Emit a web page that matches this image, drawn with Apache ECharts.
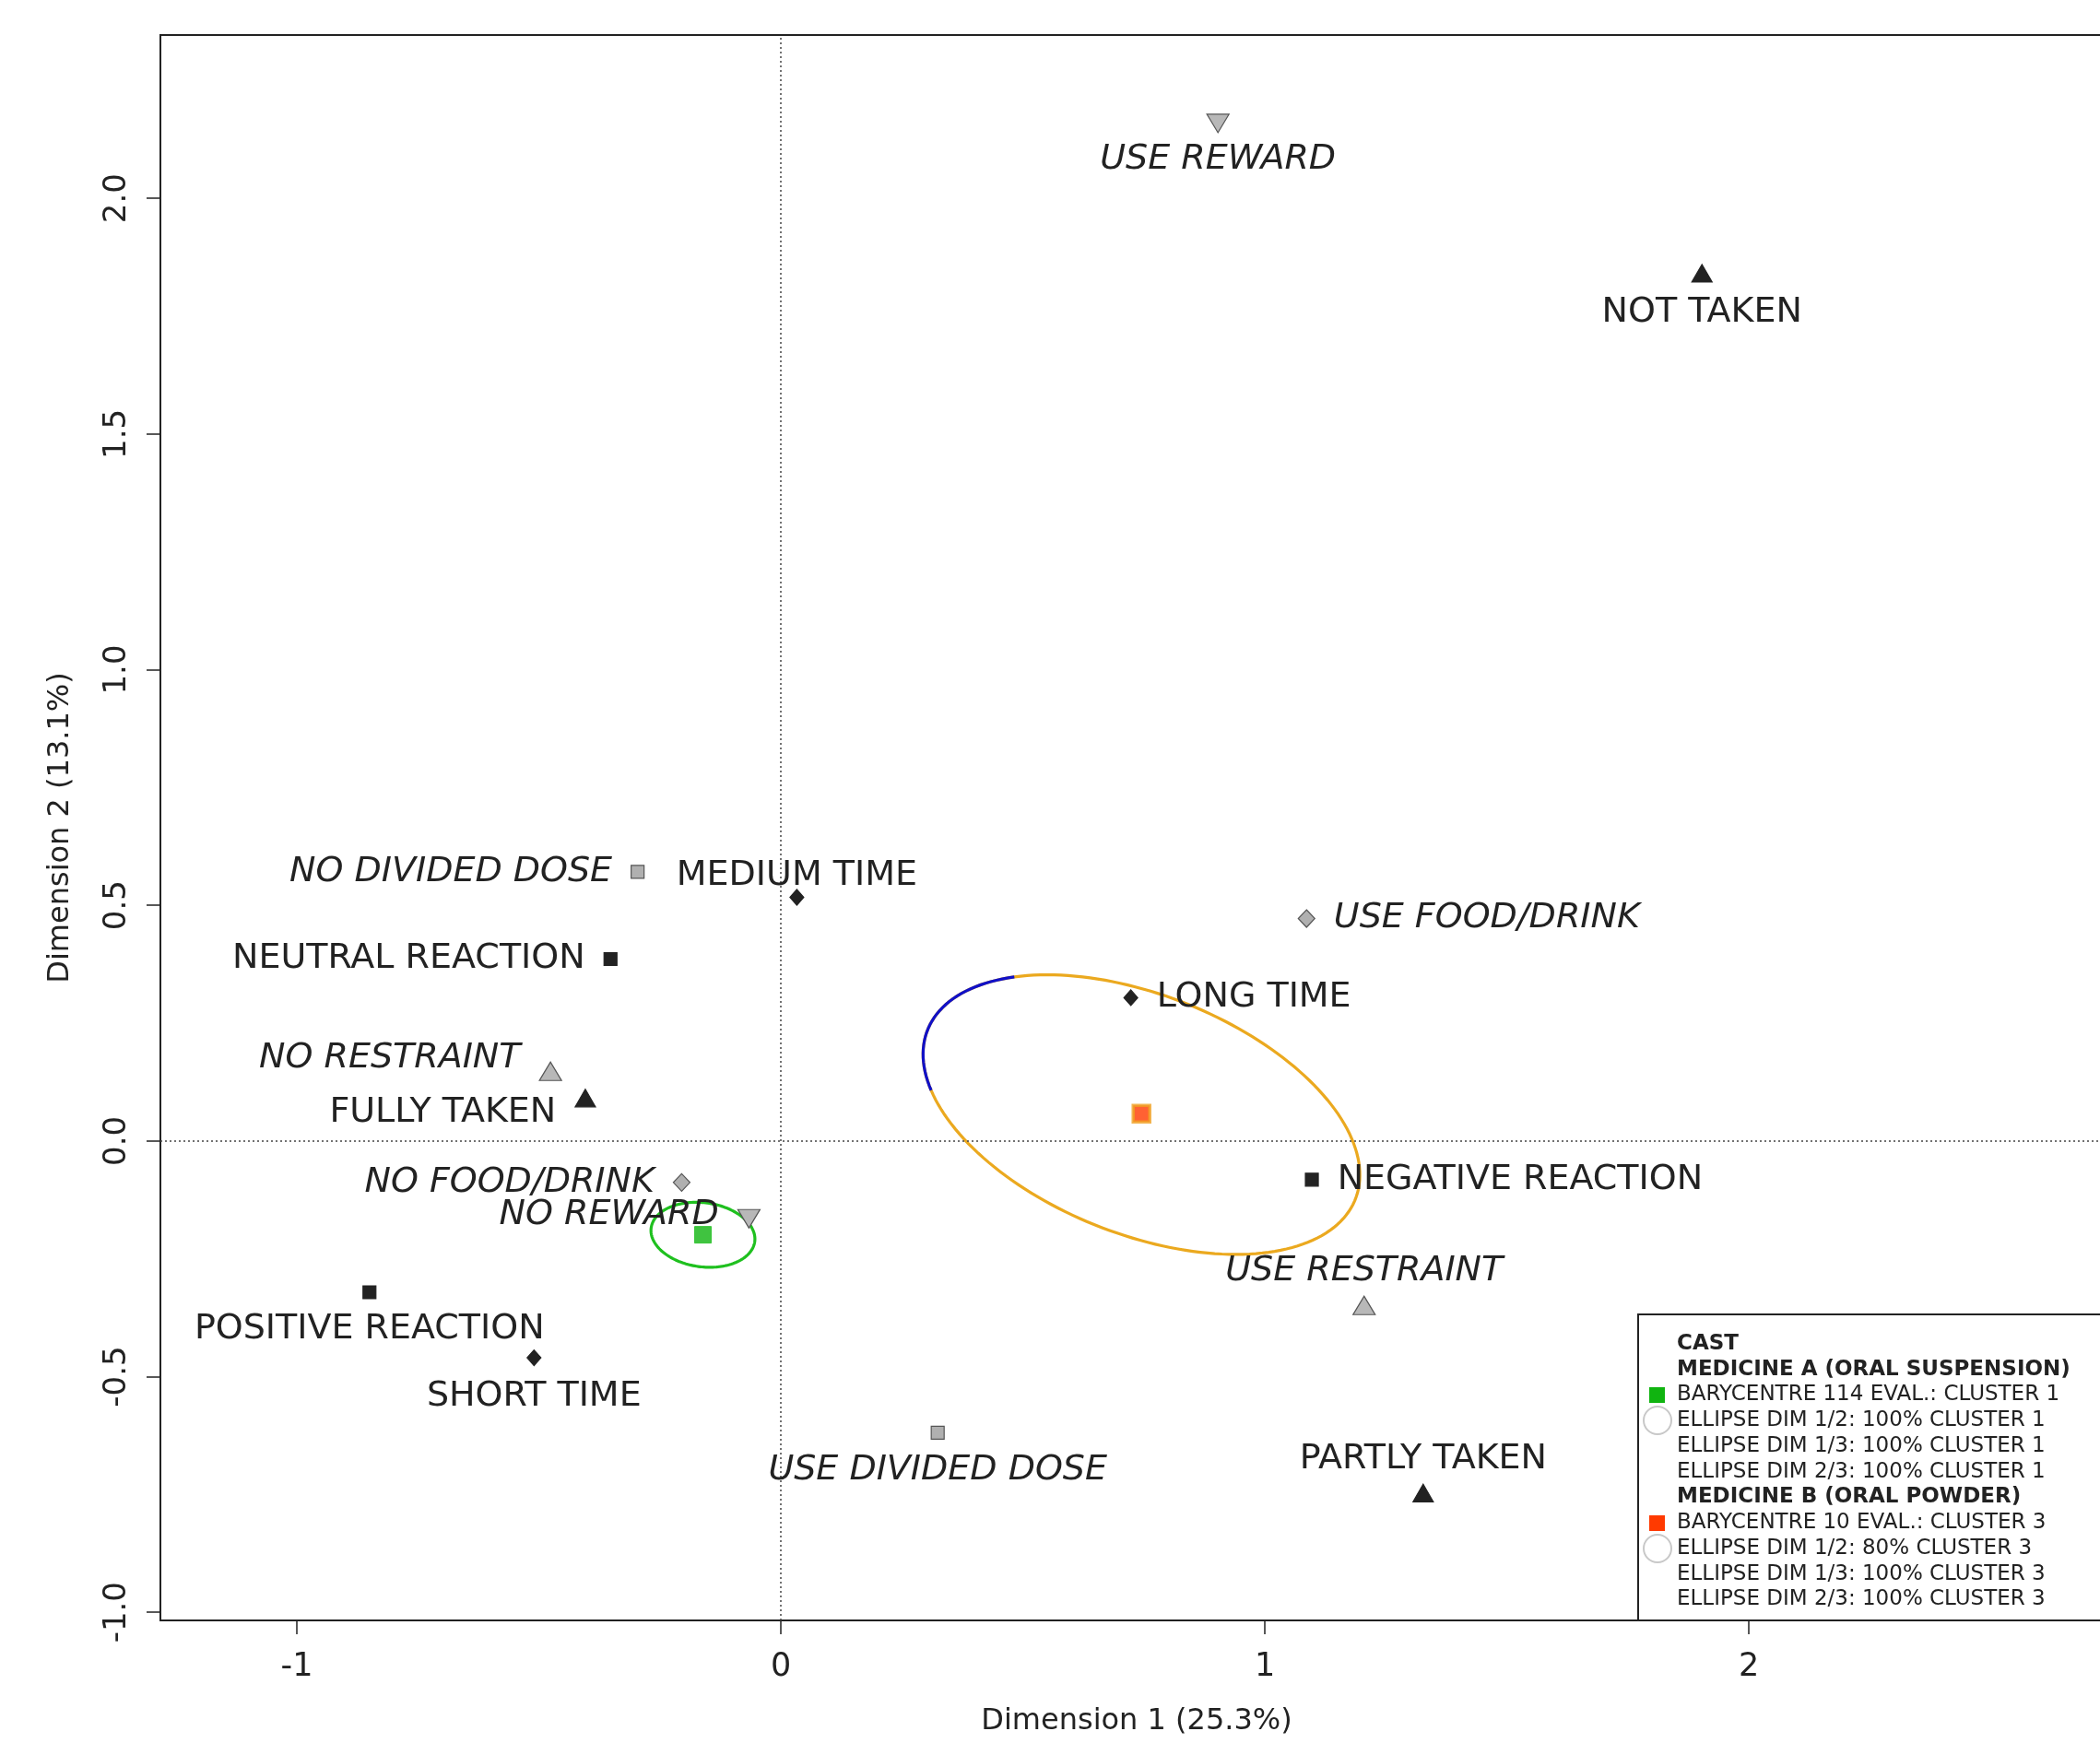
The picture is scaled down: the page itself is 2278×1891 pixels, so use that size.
<!DOCTYPE html>
<html>
<head>
<meta charset="utf-8">
<title>MCA map</title>
<script src="https://cdn.jsdelivr.net/npm/echarts@6/dist/echarts.min.js"></script>
<style>
  html, body { margin: 0; padding: 0; background: #fff; }
  #chart { width: 2278px; height: 1891px; }
</style>
</head>
<body>
<div id="chart"></div>
<script>
// category points on dimension 1 / dimension 2
var pointNames = ['USE REWARD', 'NOT TAKEN', 'NO DIVIDED DOSE', 'MEDIUM TIME', 'NEUTRAL REACTION',
  'USE FOOD/DRINK', 'LONG TIME', 'NO RESTRAINT', 'FULLY TAKEN', 'NO FOOD/DRINK',
  'NEGATIVE REACTION', 'NO REWARD', 'POSITIVE REACTION', 'USE RESTRAINT', 'SHORT TIME',
  'USE DIVIDED DOSE', 'PARTLY TAKEN'];
var pointDim1 = [0.903, 1.903, -0.296, 0.033, -0.352, 1.086, 0.723, -0.476, -0.404, -0.205,
  1.097, -0.066, -0.850, 1.205, -0.510, 0.324, 1.327];
var pointDim2 = [2.159, 1.841, 0.571, 0.517, 0.386, 0.472, 0.304, 0.148, 0.091, -0.088,
  -0.082, -0.165, -0.321, -0.349, -0.460, -0.619, -0.747];
var pointKind = ['greyDown', 'blackUp', 'greySquare', 'blackDiamond', 'blackSquare',
  'greyDiamond', 'blackDiamond', 'greyUp', 'blackUp', 'greyDiamond',
  'blackSquare', 'greyDown', 'blackSquare', 'greyUp', 'blackDiamond',
  'greySquare', 'blackUp'];

// barycentres of the two medicines
var baryNames = ['MEDICINE A', 'MEDICINE B'];
var baryDim1 = [-0.161, 0.745];
var baryDim2 = [-0.199, 0.058];

// confidence ellipses: centre, semi axes, angle (deg), arc from/to (deg)
var ellCx = [-0.161, 0.745, 0.745];
var ellCy = [-0.199, 0.056, 0.056];
var ellA = [0.108, 0.477, 0.477];
var ellB = [0.068, 0.253, 0.253];
var ellAngle = [-8, -22.5, -22.5];
var ellFrom = [0, 0, 138];
var ellTo = [360, 360, 209];

var xTicks = [-1, 0, 1, 2];
var yTicks = [-1, -0.5, 0, 0.5, 1, 1.5, 2];

var legendLines = ['CAST', 'MEDICINE A (ORAL SUSPENSION)', 'BARYCENTRE 114 EVAL.: CLUSTER 1',
  'ELLIPSE DIM 1/2: 100% CLUSTER 1', 'ELLIPSE DIM 1/3: 100% CLUSTER 1', 'ELLIPSE DIM 2/3: 100% CLUSTER 1',
  'MEDICINE B (ORAL POWDER)', 'BARYCENTRE 10 EVAL.: CLUSTER 3', 'ELLIPSE DIM 1/2: 80% CLUSTER 3',
  'ELLIPSE DIM 1/3: 100% CLUSTER 3', 'ELLIPSE DIM 2/3: 100% CLUSTER 3'];
var legendBold = [true, true, false, false, false, false, true, false, false, false, false];

// label placement (style only)
var labelSide = ['bottom', 'bottom', 'left', 'top', 'left', 'right', 'right', 'left', 'left', 'left',
  'right', 'left', 'bottom', 'top', 'bottom', 'bottom', 'top'];
var labelShift = [-4, 0, 0, 13, 0, 0, 0, -14, 16, 0, 0, -4, 0, 0, 0, 0, 0];

var FONT = '"DejaVu Sans", sans-serif';
var kindStyle = {
  blackSquare: { symbol: 'rect', size: 14, color: '#222', border: '#222' },
  blackDiamond: { symbol: 'diamond', size: [15, 17], color: '#222', border: '#222' },
  blackUp: { symbol: 'triangle', size: [22, 19], color: '#222', border: '#222' },
  greySquare: { symbol: 'rect', size: 14, color: '#b0b0b0', border: '#555' },
  greyDiamond: { symbol: 'diamond', size: [18, 19], color: '#b0b0b0', border: '#555' },
  greyUp: { symbol: 'triangle', size: [24, 20], color: '#b8b8b8', border: '#555' },
  greyDown: { symbol: 'triangle', size: [24, 20], color: '#b8b8b8', border: '#555', rotate: 180 }
};

var chart = echarts.init(document.getElementById('chart'));

var kinds = Object.keys(kindStyle);
var series = kinds.map(function (k) {
  var st = kindStyle[k];
  var data = [];
  for (var i = 0; i < pointNames.length; i++) {
    if (pointKind[i] !== k) continue;
    var side = labelSide[i];
    var dist = side === 'bottom' ? 14 : (side === 'top' ? 8 : 20);
    data.push({
      name: pointNames[i],
      value: [pointDim1[i], pointDim2[i]],
      label: { position: side, distance: dist, offset: [0, labelShift[i]] }
    });
  }
  return {
    type: 'scatter',
    name: k,
    symbol: st.symbol,
    symbolSize: st.size,
    symbolRotate: st.rotate || 0,
    itemStyle: { color: st.color, borderColor: st.border, borderWidth: 1.2, opacity: 1 },
    label: {
      show: true,
      formatter: '{b}',
      color: '#222',
      fontFamily: FONT,
      fontSize: 38,
      fontStyle: k.indexOf('grey') === 0 ? 'italic' : 'normal'
    },
    emphasis: { disabled: true },
    z: 5,
    data: data
  };
});

// dotted reference lines through the origin
series.push({
  type: 'scatter',
  name: 'origin',
  data: [],
  silent: true,
  markLine: {
    silent: true,
    symbol: 'none',
    label: { show: false },
    lineStyle: { type: [2, 3], color: '#444', width: 1.5 },
    data: [{ xAxis: 0 }, { yAxis: 0 }]
  },
  z: 1
});

// ellipses
var ellColors = ['#1fc01f', '#eba91f', '#1010c8'];
var ellData = [];
for (var e = 0; e < ellCx.length; e++) {
  ellData.push({
    value: [ellCx[e], ellCy[e], ellA[e], ellB[e], ellAngle[e], ellFrom[e], ellTo[e]],
    itemStyle: { color: ellColors[e] }
  });
}
series.push({
  type: 'custom',
  name: 'ellipses',
  silent: true,
  z: 4,
  renderItem: function (params, api) {
    var cx = api.value(0), cy = api.value(1), a = api.value(2), b = api.value(3);
    var phi = api.value(4) * Math.PI / 180;
    var pts = [];
    for (var d = api.value(5); d <= api.value(6); d += 2) {
      var t = d * Math.PI / 180;
      var ex = a * Math.cos(t), ey = b * Math.sin(t);
      pts.push(api.coord([cx + ex * Math.cos(phi) - ey * Math.sin(phi),
                          cy + ex * Math.sin(phi) + ey * Math.cos(phi)]));
    }
    return {
      type: 'polyline',
      shape: { points: pts },
      style: { stroke: api.visual('color'), lineWidth: 3.2, fill: null }
    };
  },
  data: ellData
});

// barycentres
series.push({
  type: 'scatter',
  name: 'barycentres',
  symbol: 'rect',
  symbolSize: 18,
  z: 6,
  emphasis: { disabled: true },
  data: [
    { name: baryNames[0], value: [baryDim1[0], baryDim2[0]], itemStyle: { color: '#10b410', borderColor: '#1fc01f', borderWidth: 1 } },
    { name: baryNames[1], value: [baryDim1[1], baryDim2[1]], itemStyle: { color: '#ff3a00', borderColor: '#f0a020', borderWidth: 3.5 } }
  ]
});

// legend box drawn by hand
var legendEls = [{
  type: 'rect',
  shape: { x: 1777, y: 1426, width: 600, height: 332 },
  style: { fill: '#fff', stroke: '#222', lineWidth: 2 },
  z: 20
}];
for (var j = 0; j < legendLines.length; j++) {
  legendEls.push({
    type: 'text',
    x: 1819,
    y: 1458 + j * 27.75,
    style: {
      text: legendLines[j],
      fill: '#222',
      font: (legendBold[j] ? 'bold ' : '') + '23px ' + FONT,
      verticalAlign: 'middle'
    },
    z: 21
  });
}
legendEls.push(
  { type: 'rect', shape: { x: 1789, y: 1505, width: 17, height: 17 }, style: { fill: '#10b410' }, z: 21 },
  { type: 'circle', shape: { cx: 1798, cy: 1541, r: 15 }, style: { fill: 'none', stroke: '#c8c8c8', lineWidth: 2 }, z: 21 },
  { type: 'rect', shape: { x: 1789, y: 1644, width: 17, height: 17 }, style: { fill: '#ff3a00' }, z: 21 },
  { type: 'circle', shape: { cx: 1798, cy: 1680, r: 15 }, style: { fill: 'none', stroke: '#c8c8c8', lineWidth: 2 }, z: 21 }
);

chart.setOption({
  animation: false,
  backgroundColor: '#fff',
  grid: {
    left: 174, top: 38, right: -14, bottom: 133,
    show: true, borderColor: '#222', borderWidth: 2,
    outerBoundsMode: 'none', containLabel: false
  },
  xAxis: {
    type: 'value',
    min: -1.2819, max: 2.752,
    name: 'Dimension 1 (25.3%)',
    nameLocation: 'middle',
    nameGap: 94,
    nameTextStyle: { fontFamily: FONT, fontSize: 32, color: '#222' },
    axisLine: { show: false, onZero: false },
    splitLine: { show: false },
    axisTick: { show: true, inside: false, length: 15, lineStyle: { color: '#222', width: 1.5 }, customValues: xTicks },
    axisLabel: { customValues: xTicks, margin: 33, fontFamily: FONT, fontSize: 35, color: '#222' }
  },
  yAxis: {
    type: 'value',
    min: -1.0172, max: 2.3465,
    name: 'Dimension 2 (13.1%)',
    nameLocation: 'middle',
    nameGap: 92,
    nameRotate: 90,
    nameTextStyle: { fontFamily: FONT, fontSize: 32, color: '#222' },
    axisLine: { show: false, onZero: false },
    splitLine: { show: false },
    axisTick: { show: true, inside: false, length: 15, lineStyle: { color: '#222', width: 1.5 }, customValues: yTicks },
    axisLabel: {
      customValues: yTicks, rotate: 90, margin: 30, fontFamily: FONT, fontSize: 34, color: '#222',
      formatter: function (v) { return v.toFixed(1); }
    }
  },
  graphic: legendEls,
  series: series
});
</script>
</body>
</html>
